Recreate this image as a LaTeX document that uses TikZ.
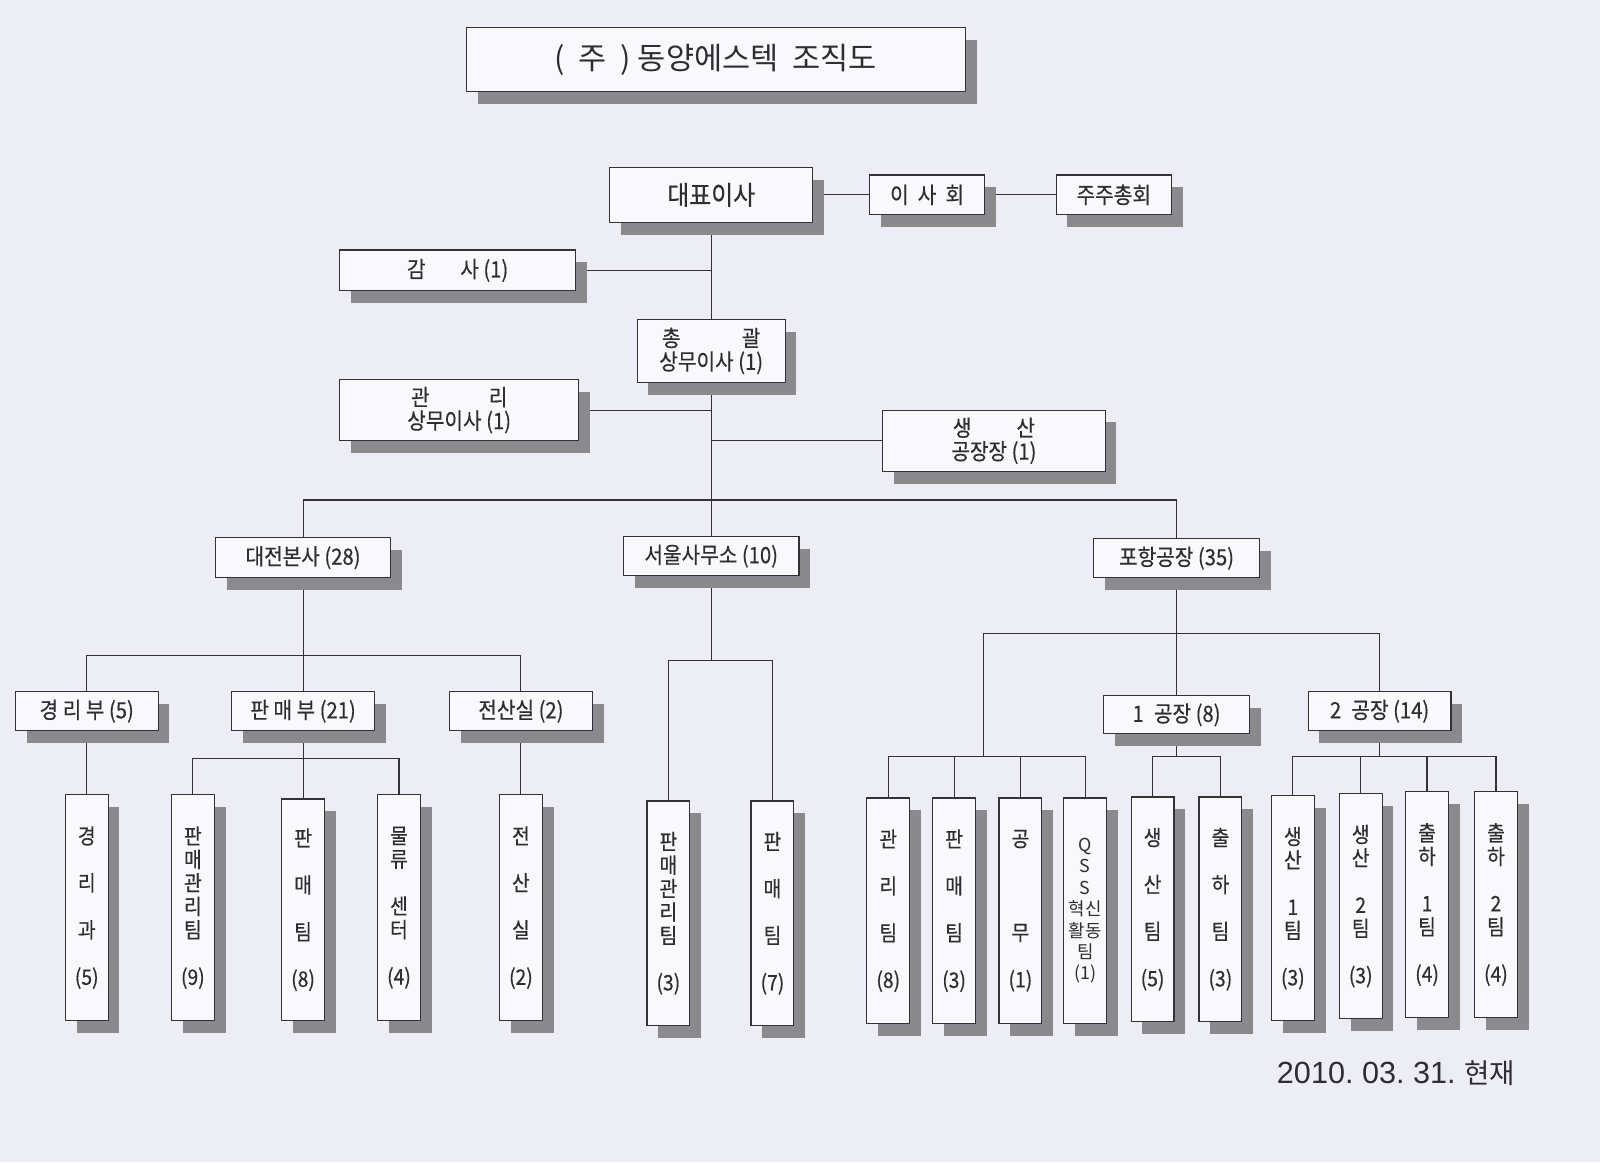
\documentclass[tikz,border=0pt]{standalone}
\usepackage{fontspec}
\usetikzlibrary{shadows}
\newfontfamily\kr{Noto Sans CJK KR}
\newfontfamily\krc[FakeStretch=0.9, FakeBold=0.4]{Noto Sans CJK KR}
\newfontfamily\lat{Liberation Sans}
\definecolor{paper}{RGB}{237,237,245}
\definecolor{boxfill}{RGB}{249,249,252}
\definecolor{shade}{RGB}{138,138,140}
\definecolor{wire}{RGB}{50,50,55}
\definecolor{ink}{RGB}{45,45,50}
\pgfdeclarelayer{back}
\pgfdeclarelayer{wires}
\pgfsetlayers{back,wires,main}
\tikzset{
  unit/.style={draw=wire, fill=boxfill, line width=1.1pt, inner sep=0pt, align=center, text=ink,
    drop shadow={shadow xshift=11pt, shadow yshift=-12pt, fill=shade, opacity=1},
    font=\krc\fontsize{22}{23}\selectfont},
  leaf/.style={unit, minimum width=42pt, font=\krc\fontsize{21}{23}\selectfont},
  link/.style={draw=wire, line width=1.1pt},
}
\begin{document}
\begin{tikzpicture}[x=1pt, y=-1pt]
  \begin{pgfonlayer}{back}
    \fill[paper] (0,0) rectangle (1568,1139);
  \end{pgfonlayer}
  \useasboundingbox (0,0) rectangle (1568,1139);

  % title
  \node[unit, minimum width=489pt, minimum height=63pt, font=\kr\fontsize{30}{32}\selectfont]
    (title) at (701.5,58.5) {(\ \ 주\ \ )\ 동양에스텍\ \ 조직도};

  % top management
  \node[unit, minimum width=199pt, minimum height=54pt, font=\krc\fontsize{26}{28}\selectfont]
    (ceo) at (697,191) {대표이사};
  \node[unit, minimum width=113pt, minimum height=39pt] (board) at (908.5,191) {이\ \ 사\ \ 회};
  \node[unit, minimum width=113pt, minimum height=39pt] (share) at (1091.5,191) {주주총회};
  \node[unit, minimum width=231pt, minimum height=40pt] (audit) at (448.5,265) {감\hspace{34pt}사 (1)};
  \node[unit, minimum width=145pt, minimum height=62pt] (gm) at (697,344) {총\hspace{60pt}괄\\상무이사 (1)};
  \node[unit, minimum width=234pt, minimum height=60pt] (admin) at (450,402) {관\hspace{58pt}리\\상무이사 (1)};
  \node[unit, minimum width=218pt, minimum height=60pt] (plant) at (974,432) {생\hspace{44pt}산\\공장장 (1)};

  % sites
  \node[unit, minimum width=171pt, minimum height=39pt] (daejeon) at (297,546.5) {대전본사 (28)};
  \node[unit, minimum width=172pt, minimum height=38pt] (seoul) at (697,545) {서울사무소 (10)};
  \node[unit, minimum width=163pt, minimum height=38pt] (pohang) at (1153,547) {포항공장 (35)};

  % departments
  \node[unit, minimum width=140pt, minimum height=38pt] (acct) at (85,697) {경 리 부 (5)};
  \node[unit, minimum width=140pt, minimum height=38pt] (sales) at (297,697) {판 매 부 (21)};
  \node[unit, minimum width=140pt, minimum height=38pt] (comp) at (510.5,697) {전산실 (2)};
  \node[unit, minimum width=143pt, minimum height=37pt] (f1) at (1153,700.5) {1\hspace{10pt}공장 (8)};
  \node[unit, minimum width=140pt, minimum height=38pt] (f2) at (1352,697) {2\hspace{10pt}공장 (14)};

  % teams
  \node[leaf, minimum height=221pt] (acctT) at (85,889.5) {경\\[23pt]리\\[23pt]과\\[23pt](5)};
  \node[leaf, minimum height=221pt] (salesmgT) at (189,889.5) {판\\매\\관\\리\\팀\\[23pt](9)};
  \node[leaf, minimum height=217pt] (salesT) at (297,891.5) {판\\[23pt]매\\[23pt]팀\\[23pt](8)};
  \node[leaf, minimum height=221pt] (logT) at (391,889.5) {물\\류\\[23pt]센\\터\\[23pt](4)};
  \node[leaf, minimum height=221pt] (compT) at (510.5,889.5) {전\\[23pt]산\\[23pt]실\\[23pt](2)};
  \node[leaf, minimum height=220pt] (seoulmgT) at (655,895) {판\\매\\관\\리\\팀\\[23pt](3)};
  \node[leaf, minimum height=220pt] (seoulsT) at (757,895) {판\\[23pt]매\\[23pt]팀\\[23pt](7)};
  \node[leaf, minimum height=221pt] (pmgT) at (870.5,892.5) {관\\[23pt]리\\[23pt]팀\\[23pt](8)};
  \node[leaf, minimum height=221pt] (psalesT) at (935,892.5) {판\\[23pt]매\\[23pt]팀\\[23pt](3)};
  \node[leaf, minimum height=221pt] (pworksT) at (1000,892.5) {공\\[69pt]무\\[23pt](1)};
  \node[leaf, minimum height=221pt, font=\kr\fontsize{17.5}{21}\selectfont]
    (qssT) at (1063.5,892.5) {Q\\S\\S\\혁신\\활동\\팀\\(1)};
  \node[leaf, minimum height=220pt] (f1prodT) at (1129.5,891) {생\\[23pt]산\\[23pt]팀\\[23pt](5)};
  \node[leaf, minimum height=220pt] (f1shipT) at (1196,891) {출\\[23pt]하\\[23pt]팀\\[23pt](3)};
  \node[leaf, minimum height=220pt] (f2prod1T) at (1267,890) {생\\산\\[23pt]1\\팀\\[23pt](3)};
  \node[leaf, minimum height=220pt] (f2prod2T) at (1333.5,888) {생\\산\\[23pt]2\\팀\\[23pt](3)};
  \node[leaf, minimum height=221pt] (f2ship1T) at (1398.5,886.5) {출\\하\\[23pt]1\\팀\\[23pt](4)};
  \node[leaf, minimum height=221pt] (f2ship2T) at (1466,886.5) {출\\하\\[23pt]2\\팀\\[23pt](4)};

  \node[text=ink, inner sep=0pt] (date) at (1368,1052)
    {\lat\fontsize{30}{32}\selectfont 2010.\ 03.\ 31.\ {\kr\fontsize{27}{30}\selectfont 현재}};

  % connectors
  \coordinate (topbus) at (697,490);
  \coordinate (djbus) at (297,642);
  \coordinate (pmbus) at (297,743);
  \coordinate (sbus) at (697,647);
  \coordinate (phbus) at (1153,621);
  \coordinate (ptbus) at (964,741);
  \coordinate (f1bus) at (1153,741);
  \coordinate (f2bus) at (1352,741);
  \begin{pgfonlayer}{wires}
    \draw[link] (ceo.east) -- (board.west);
    \draw[link] (board.east) -- (share.west);
    \draw[link] (ceo.south) -- (gm.north);
    \draw[link] (audit.east) -- (audit.east -| ceo.south);
    \draw[link] (gm.south) -- (seoul.north);
    \draw[link] (admin.east) -- (admin.east -| gm.south);
    \draw[link] (plant.west) -- (plant.west -| gm.south);
    \draw[link] (daejeon.north) |- (topbus) -| (pohang.north);
    \draw[link] (daejeon.south) -- (sales.north);
    \draw[link] (acct.north) |- (djbus) -| (comp.north);
    \draw[link] (acct.south) -- (acctT.north);
    \draw[link] (comp.south) -- (compT.north);
    \draw[link] (sales.south) -- (salesT.north);
    \draw[link] (salesmgT.north) |- (pmbus) -| (logT.north);
    \draw[link] (seoul.south) -- (sbus);
    \draw[link] (seoulmgT.north) |- (sbus) -| (seoulsT.north);
    \draw[link] (pohang.south) -- (f1.north);
    \draw[link] (ptbus) |- (phbus) -| (f2.north);
    \draw[link] (pmgT.north) |- (ptbus) -| (qssT.north);
    \draw[link] (psalesT.north) -- (psalesT.north |- ptbus);
    \draw[link] (pworksT.north) -- (pworksT.north |- ptbus);
    \draw[link] (f1.south) -- (f1bus);
    \draw[link] (f1prodT.north) |- (f1bus) -| (f1shipT.north);
    \draw[link] (f2.south) -- (f2bus);
    \draw[link] (f2prod1T.north) |- (f2bus) -| (f2ship2T.north);
    \draw[link] (f2prod2T.north) -- (f2prod2T.north |- f2bus);
    \draw[link] (f2ship1T.north) -- (f2ship1T.north |- f2bus);
  \end{pgfonlayer}
\end{tikzpicture}
\end{document}
